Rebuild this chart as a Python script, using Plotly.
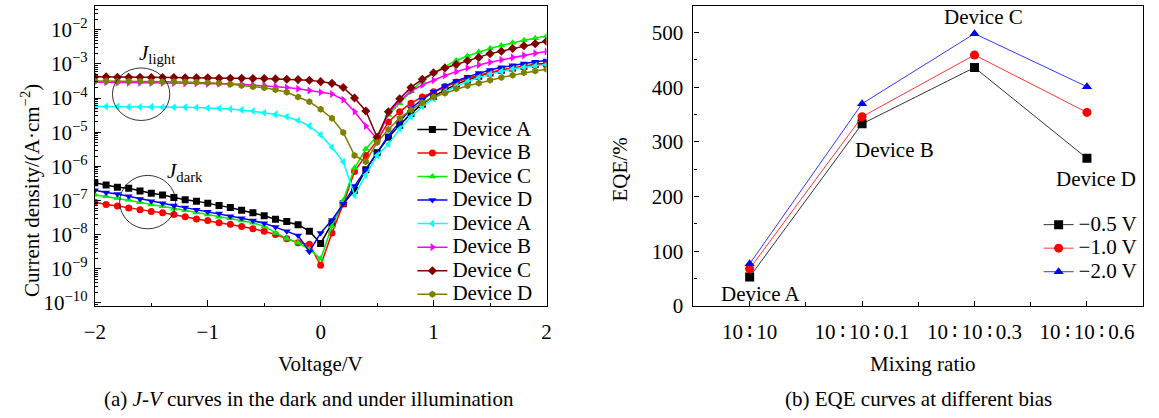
import plotly.graph_objects as go

W, H = 1159, 418


def px(x):
    return x / W


def py(y):
    return 1 - y / H


FONT = "Liberation Serif, Times New Roman, serif"
FS = 21

# ---------------- (a) J-V data (log10 of current density, A/cm^2) ----------------
voltage = [-2.0, -1.9, -1.8, -1.7, -1.6, -1.5, -1.4, -1.3, -1.2, -1.1,
           -1.0, -0.9, -0.8, -0.7, -0.6, -0.5, -0.4, -0.3, -0.2, -0.1,
           0.0, 0.1, 0.2, 0.3, 0.4, 0.5, 0.6, 0.7, 0.8, 0.9,
           1.0, 1.1, 1.2, 1.3, 1.4, 1.5, 1.6, 1.7, 1.8, 1.9, 2.0]

logJ_dark_A = [-6.48, -6.55, -6.61, -6.64, -6.72, -6.79, -6.84, -6.91, -6.98, -7.02,
               -7.08, -7.15, -7.21, -7.29, -7.36, -7.45, -7.55, -7.62, -7.71, -7.90,
               -8.26, -7.67, -7.10, -6.70, -6.10, -5.60, -5.15, -4.80, -4.45, -4.18,
               -3.95, -3.77, -3.60, -3.47, -3.36, -3.27, -3.19, -3.12, -3.07, -3.02, -2.98]
logJ_dark_B = [-7.05, -7.12, -7.16, -7.22, -7.27, -7.32, -7.36, -7.41, -7.48, -7.54,
               -7.59, -7.65, -7.70, -7.76, -7.83, -7.90, -8.00, -8.12, -8.24, -8.28,
               -8.90, -7.95, -7.10, -6.15, -5.68, -5.25, -4.70, -4.40, -4.15, -3.97,
               -3.82, -3.66, -3.53, -3.42, -3.33, -3.25, -3.18, -3.12, -3.07, -3.03, -2.99]
logJ_dark_C = [-6.83, -6.88, -6.93, -6.98, -7.05, -7.12, -7.17, -7.24, -7.29, -7.35,
               -7.41, -7.48, -7.52, -7.59, -7.65, -7.76, -7.95, -8.12, -8.24, -8.43,
               -8.71, -7.76, -7.00, -6.05, -5.49, -5.11, -4.50, -4.15, -3.80, -3.50,
               -3.27, -3.08, -2.90, -2.77, -2.65, -2.55, -2.46, -2.38, -2.31, -2.25, -2.18]
logJ_dark_D = [-6.70, -6.77, -6.81, -6.88, -6.96, -7.02, -7.08, -7.15, -7.21, -7.27,
               -7.33, -7.38, -7.46, -7.52, -7.59, -7.67, -7.78, -7.90, -8.03, -8.50,
               -7.95, -7.57, -7.10, -6.58, -6.10, -5.60, -5.10, -4.70, -4.30, -4.05,
               -3.82, -3.65, -3.50, -3.38, -3.27, -3.18, -3.10, -3.04, -2.99, -2.94, -2.90]
logJ_light_A = [-4.25, -4.25, -4.25, -4.26, -4.26, -4.26, -4.27, -4.27, -4.27, -4.28,
                -4.29, -4.30, -4.32, -4.35, -4.38, -4.43, -4.48, -4.55, -4.66, -4.82,
                -5.08, -5.44, -5.87, -6.85, -6.25, -5.68, -5.35, -4.90, -4.55, -4.25,
                -4.02, -3.82, -3.65, -3.52, -3.40, -3.30, -3.22, -3.15, -3.10, -3.06, -3.02]
logJ_light_B = [-3.54, -3.54, -3.55, -3.55, -3.55, -3.56, -3.56, -3.56, -3.57, -3.57,
                -3.58, -3.58, -3.59, -3.60, -3.62, -3.63, -3.66, -3.69, -3.73, -3.78,
                -3.83, -3.88, -4.05, -4.40, -4.82, -5.20, -4.45, -4.08, -3.80, -3.62,
                -3.48, -3.34, -3.23, -3.12, -3.03, -2.95, -2.88, -2.81, -2.75, -2.69, -2.64]
logJ_light_C = [-3.38, -3.38, -3.39, -3.39, -3.39, -3.40, -3.40, -3.40, -3.41, -3.41,
                -3.41, -3.42, -3.42, -3.42, -3.43, -3.43, -3.44, -3.45, -3.46, -3.48,
                -3.52, -3.57, -3.69, -4.00, -4.38, -5.15, -4.40, -4.02, -3.69, -3.45,
                -3.26, -3.12, -3.02, -2.91, -2.81, -2.70, -2.63, -2.55, -2.47, -2.41, -2.34]
logJ_light_D = [-3.50, -3.50, -3.51, -3.51, -3.51, -3.52, -3.52, -3.52, -3.53, -3.54,
                -3.55, -3.57, -3.60, -3.63, -3.67, -3.70, -3.76, -3.83, -3.97, -4.11,
                -4.33, -4.59, -5.01, -5.68, -5.87, -5.30, -4.92, -4.59, -4.35, -4.14,
                -3.97, -3.86, -3.73, -3.64, -3.57, -3.48, -3.40, -3.33, -3.26, -3.21, -3.16]

jv_names = ["Device A", "Device B", "Device C", "Device D",
            "Device A", "Device B", "Device C", "Device D"]
jv_series = [logJ_dark_A, logJ_dark_B, logJ_dark_C, logJ_dark_D,
             logJ_light_A, logJ_light_B, logJ_light_C, logJ_light_D]
jv_colors = ["#000000", "#FF0000", "#00EE00", "#0000FF",
             "#00FFFF", "#FF00FF", "#800000", "#808000"]
jv_symbols = ["square", "circle", "triangle-up", "triangle-down",
              "triangle-left", "triangle-right", "diamond", "hexagon"]

# log-axis tick decades and labels
y_decades = [-10, -9, -8, -7, -6, -5, -4, -3, -2]
y_ticktext = ["10<sup>\u2212%d</sup>" % (-d) for d in y_decades]

# ---------------- (b) EQE data ----------------
C = "\u2009\u2236\u2009"
mixing_ratio = ["10" + C + "10", "10" + C + "10" + C + "0.1",
                "10" + C + "10" + C + "0.3", "10" + C + "10" + C + "0.6"]
eqe_m05 = [53, 333, 436, 270]
eqe_m10 = [68, 346, 459, 354]
eqe_m20 = [77, 370, 498, 401]
bias_names = ["\u22120.5 V", "\u22121.0 V", "\u22122.0 V"]
bias_colors = ["#000000", "#FF0000", "#0000FF"]
bias_symbols = ["square", "circle", "triangle-up"]
device_labels = ["Device A", "Device B", "Device C", "Device D"]

fig = go.Figure()

for name, logs, col, sym in zip(jv_names, jv_series, jv_colors, jv_symbols):
    fig.add_trace(go.Scatter(
        x=voltage, y=[10 ** v for v in logs], mode="lines+markers",
        name='<span style="font-size:%dpx">%s</span>' % (FS, name),
        line=dict(color=col, width=1.5),
        marker=dict(symbol=sym, size=7, color=col, line=dict(width=0)),
        xaxis="x", yaxis="y", legend="legend",
    ))

cat_idx = list(range(len(mixing_ratio)))
for name, vals, col, sym in zip(bias_names, [eqe_m05, eqe_m10, eqe_m20], bias_colors, bias_symbols):
    fig.add_trace(go.Scatter(
        x=cat_idx, y=vals, mode="lines+markers",
        name='<span style="font-size:%dpx">%s</span>' % (FS, name),
        line=dict(color=col, width=0.8),
        marker=dict(symbol=sym, size=9, color=col, line=dict(width=0)),
        xaxis="x2", yaxis="y2", legend="legend2",
    ))

axis_common = dict(showline=True, mirror=True, linecolor="black", linewidth=1.2,
                   showgrid=False, zeroline=False, ticks="inside", tickcolor="black",
                   tickwidth=1, tickfont=dict(family=FONT, size=FS, color="black"))

minor_log = [k * 10.0 ** n for n in range(-11, -1) for k in range(2, 10)]

fig.update_layout(
    width=W, height=H, autosize=False, margin=dict(l=0, r=0, t=0, b=0, pad=0),
    paper_bgcolor="white", plot_bgcolor="white",
    font=dict(family=FONT, size=FS, color="black"),
    xaxis=dict(domain=[px(85), px(543)], range=[-2, 2], tickvals=[-2, -1, 0, 1, 2],
               ticklen=6, ticklabelstandoff=7,
               minor=dict(tickvals=[-1.5, -0.5, 0.5, 1.5], ticks="inside", ticklen=3,
                          tickcolor="black"),
               anchor="y", **axis_common),
    yaxis=dict(domain=[py(315), py(6)], type="log", range=[-10.09, -1.30],
               tickmode="array", tickvals=[10.0 ** d for d in y_decades], ticktext=y_ticktext,
               ticklen=6, ticklabelstandoff=2,
               minor=dict(tickmode="array", tickvals=minor_log, ticks="inside", ticklen=3,
                          tickcolor="black"),
               anchor="x", **axis_common),
    xaxis2=dict(domain=[px(692), px(1148)], range=[-0.5, 3.5], tickvals=cat_idx,
                ticktext=mixing_ratio, ticklen=5, ticklabelstandoff=7,
                minor=dict(tickvals=[0.5, 1.5, 2.5], ticks="inside", ticklen=4, tickcolor="black"),
                anchor="y2", **axis_common),
    yaxis2=dict(domain=[py(315), py(6.5)], range=[0, 548], dtick=100, ticklen=5,
                ticklabelstandoff=5,
                minor=dict(dtick=50, ticks="inside", ticklen=3, tickcolor="black"),
                anchor="x2", **axis_common),
    legend=dict(x=px(407), y=py(116), xanchor="left", yanchor="top",
                font=dict(family=FONT, size=15.8, color="black"),
                bgcolor="rgba(0,0,0,0)", tracegroupgap=0),
    legend2=dict(x=px(1042), y=py(214), xanchor="left", yanchor="top",
                 font=dict(family=FONT, size=15.8, color="black"),
                 bgcolor="rgba(0,0,0,0)", tracegroupgap=0),
    showlegend=True,
)

# circles around J_light / J_dark groups
fig.add_shape(type="circle", xref="x domain", yref="y domain",
              x0=0.039, x1=0.166, y0=0.618, y1=0.793, line=dict(color="black", width=0.8))
fig.add_shape(type="circle", xref="x domain", yref="y domain",
              x0=0.055, x1=0.179, y0=0.257, y1=0.435, line=dict(color="black", width=0.8))


def note(text, x, y, angle=0, xref="paper", yref="paper", size=FS):
    return dict(text=text, x=x, y=y, xref=xref, yref=yref, showarrow=False,
                xanchor="center", yanchor="middle", textangle=angle,
                font=dict(family=FONT, size=size, color="black"))


ann = [
    note("<i>J</i><sub>light</sub>", px(148), py(56)),
    note("<i>J</i><sub>dark</sub>", px(176), py(177)),
    note("Current density/(A\u00b7cm<sup>\u22122</sup>)", px(20), py(196), -90, size=21),
    note("Voltage/V", px(314), py(375)),
    note("(a) <i>J</i>-<i>V</i> curves in the dark and under illumination", px(302), py(411)),
    note("EQE/%", px(618), py(174), -90),
    note("Mixing ratio", px(925), py(375)),
    note("(b) EQE curves at different bias", px(920), py(411)),
]

label_pos = [(0.10, 22), (1.29, 285), (2.08, 529), (3.08, 233)]
for lab, (lx, ly) in zip(device_labels, label_pos):
    ann.append(note(lab, lx, ly, xref="x2", yref="y2"))

fig.update_layout(annotations=ann)

fig.write_html(
    "out.html",
    config={"displayModeBar": False, "responsive": False},
    post_script=("document.documentElement.style.margin='0';"
                 "document.documentElement.style.overflow='hidden';"
                 "document.body.style.margin='0';"
                 "document.body.style.overflow='hidden';"),
)
